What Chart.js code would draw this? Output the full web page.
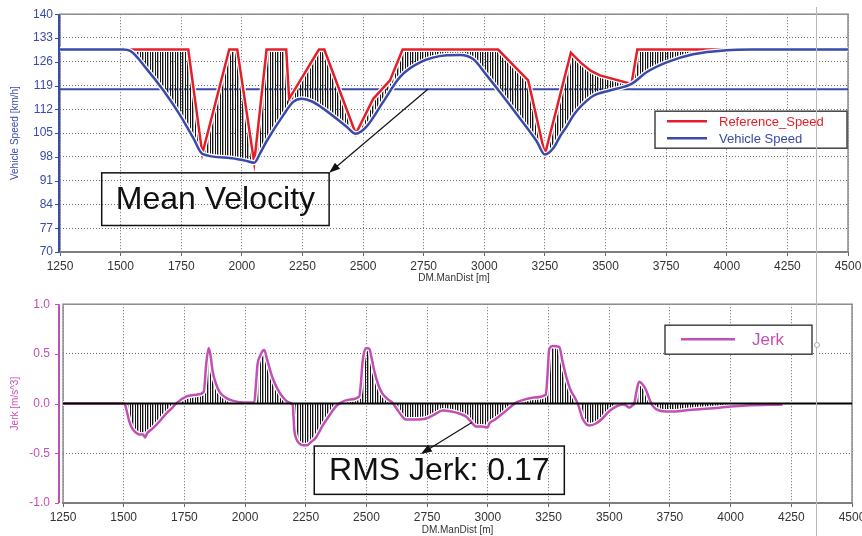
<!DOCTYPE html>
<html>
<head>
<meta charset="utf-8">
<title>Speed and Jerk</title>
<script src="https://cdn.jsdelivr.net/npm/chart.js@4.4.0/dist/chart.umd.min.js"></script>
<style>
    html, body { margin: 0; padding: 0; background: #fff; }
    #wrap { position: relative; width: 862px; height: 536px; overflow: hidden; }
    #speedChart { position: absolute; left: 0; top: 0; }
    #jerkChart { position: absolute; left: 0; top: 284px; }
    #cursor { position: absolute; left: 816px; top: 7px; width: 1px; height: 529px; background: #b8b8b8; }
    #cursorDot { position: absolute; left: 814px; top: 342px; width: 4px; height: 4px; border: 1px solid #aaa; border-radius: 50%; background: #fff; }
</style>
</head>
<body>
<div id="wrap">
    <canvas id="speedChart" width="862" height="284"></canvas>
    <canvas id="jerkChart" width="862" height="252"></canvas>
    <div id="cursor"></div>
    <div id="cursorDot"></div>
</div>
<script>
// Distance axis (shared by both plots)
const distRange = [1250, 4500];
const distStep = 250;

// Speed plot
const speedRange = [70, 140];
const speedStep = 7;
const refDist  = [1250, 1779, 1837, 1948, 1981, 2051, 2102, 2183, 2195, 2318, 2340, 2470, 2542, 2611, 2663, 3057, 3181, 3250, 3357, 3400, 3440, 3477, 3607, 3631, 4200];
const refSpeed = [129.6, 129.6, 98.9, 129.6, 129.6, 96.3, 129.6, 129.6, 115.1, 129.6, 129.6, 104.8, 115.1, 120.5, 129.6, 129.6, 120.5, 98.7, 128.7, 125.6, 123.3, 122.0, 119.5, 129.6, 129.6];
const vehDist  = [1250, 1510, 1540, 1607, 1676, 1745, 1800, 1837, 1950, 2013, 2051, 2075, 2102, 2171, 2212, 2247, 2290, 2336, 2432, 2470, 2514, 2583, 2652, 2735, 2845, 2900, 2954, 3010, 3064, 3147, 3216, 3250, 3285, 3312, 3340, 3370, 3400, 3450, 3520, 3607, 3669, 3752, 3861, 3999, 4100, 4500];
const vehSpeed = [129.6, 129.6, 129.2, 123.9, 117.6, 110.3, 103.5, 98.9, 97.7, 96.9, 96.3, 99.0, 102.6, 110.3, 114.2, 115.1, 114.3, 112.2, 106.9, 104.8, 106.9, 114.2, 121.5, 125.8, 127.9, 128.0, 126.8, 122.0, 117.1, 109.3, 102.6, 98.7, 100.6, 104.0, 107.0, 110.5, 113.0, 116.0, 117.6, 119.5, 122.9, 125.8, 128.2, 129.4, 129.6, 129.6];
const meanVelocity = 117.9;

// Jerk plot
const jerkRange = [-1, 1];
const jerkStep = 0.5;
const jerkDist = [1250, 1500, 1507, 1515, 1523, 1535, 1550, 1565, 1580, 1588, 1596, 1620, 1647, 1675, 1701, 1715, 1757, 1800, 1830, 1840, 1850, 1858, 1866, 1880, 1894, 1920, 1948, 2000, 2038, 2045, 2051, 2062, 2072, 2079, 2090, 2113, 2135, 2154, 2182, 2196, 2203, 2212, 2223, 2240, 2255, 2270, 2292, 2320, 2347, 2370, 2388, 2429, 2470, 2477, 2484, 2498, 2512, 2522, 2532, 2550, 2566, 2590, 2607, 2635, 2663, 2700, 2745, 2780, 2813, 2850, 2882, 2910, 2930, 2951, 2975, 2999, 3006, 3030, 3061, 3090, 3116, 3150, 3184, 3239, 3246, 3253, 3267, 3294, 3308, 3322, 3340, 3356, 3372, 3390, 3418, 3445, 3472, 3494, 3514, 3555, 3570, 3582, 3595, 3603, 3612, 3623, 3635, 3651, 3665, 3678, 3706, 3747, 3830, 3912, 4000, 4063, 4214];
const jerkVal  = [0, 0, -0.02, -0.10, -0.18, -0.25, -0.29, -0.31, -0.31, -0.34, -0.30, -0.25, -0.18, -0.10, -0.04, 0, 0.07, 0.09, 0.12, 0.40, 0.56, 0.48, 0.33, 0.20, 0.12, 0.06, 0.03, 0.01, 0.01, 0.20, 0.39, 0.48, 0.53, 0.54, 0.45, 0.26, 0.14, 0.07, 0.01, -0.01, -0.27, -0.36, -0.40, -0.42, -0.42, -0.39, -0.34, -0.22, -0.12, -0.04, 0, 0.04, 0.07, 0.20, 0.42, 0.56, 0.55, 0.45, 0.33, 0.18, 0.10, 0.04, 0.01, -0.09, -0.16, -0.16, -0.15, -0.11, -0.07, -0.08, -0.10, -0.13, -0.18, -0.23, -0.23, -0.24, -0.20, -0.16, -0.10, -0.04, 0.01, 0.04, 0.06, 0.09, 0.30, 0.55, 0.58, 0.57, 0.42, 0.28, 0.14, 0.07, -0.01, -0.15, -0.22, -0.20, -0.15, -0.09, -0.05, -0.01, -0.02, -0.04, -0.02, 0, 0.12, 0.22, 0.20, 0.14, 0.05, -0.02, -0.07, -0.08, -0.065, -0.05, -0.03, -0.02, -0.01];
const rmsJerk = 0.17;

const FONT = "'Liberation Sans', Arial, sans-serif";
const RED = '#e3202a';
const BLUE = '#3a4aa8';
const PINK = '#c24fb4';
const GRID = '#6a6a6a';

Chart.defaults.font.family = FONT;

function toPoints(xs, ys) {
    return xs.map((x, i) => ({ x: x, y: ys[i] }));
}

// Vertical hatching used between the curves
function hatchPattern() {
    const c = document.createElement('canvas');
    c.width = 5;
    c.height = 4;
    const g = c.getContext('2d');
    g.fillStyle = '#151515';
    g.fillRect(0, 0, 1, 4);
    g.fillRect(2, 0, 1, 4);
    g.fillStyle = '#b0b0b0';
    g.fillRect(3, 0, 1, 4);
    return g.createPattern(c, 'repeat');
}

// White outline under selected lines so the hatching stops short of them
const haloPlugin = {
    id: 'halo',
    beforeDatasetDraw(chart, args) {
        const ds = chart.data.datasets[args.index];
        if (!ds.halo) return;
        const { ctx, chartArea } = chart;
        ctx.save();
        ctx.beginPath();
        ctx.rect(chartArea.left, chartArea.top, chartArea.width, chartArea.height);
        ctx.clip();
        ctx.beginPath();
        args.meta.dataset.path(ctx);
        ctx.lineWidth = ds.borderWidth + 2.5;
        ctx.lineJoin = 'round';
        ctx.strokeStyle = '#fff';
        ctx.stroke();
        ctx.restore();
    }
};

// Plot frame, coloured value axis, zero line, callout boxes and legend
const decorPlugin = {
    id: 'decor',
    beforeDatasetsDraw(chart) {
        const { ctx, chartArea: a } = chart;
        ctx.save();
        ctx.strokeStyle = '#8c8c8c';
        ctx.lineWidth = 1.5;
        ctx.strokeRect(a.left, a.top, a.width, a.height);
        ctx.restore();
    },
    afterDatasetsDraw(chart, args, opts) {
        const { ctx, chartArea: a, scales } = chart;
        const xs = scales.x, ys = scales.y;

        if (opts.zeroLine) {
            const y0 = ys.getPixelForValue(0);
            ctx.save();
            ctx.strokeStyle = '#000';
            ctx.lineWidth = 2;
            ctx.beginPath();
            ctx.moveTo(a.left, y0);
            ctx.lineTo(a.right, y0);
            ctx.stroke();
            ctx.restore();
        }

        // value axis drawn slightly outside the frame
        if (opts.axis) {
            const ax = a.left - opts.axis.offset;
            ctx.save();
            ctx.strokeStyle = opts.axis.color;
            ctx.lineWidth = 2;
            ctx.beginPath();
            ctx.moveTo(ax, a.top);
            ctx.lineTo(ax, a.bottom);
            ctx.stroke();
            ctx.lineWidth = 1;
            ctx.beginPath();
            ys.ticks.forEach(t => {
                const ty = Math.round(ys.getPixelForValue(t.value)) + 0.5;
                ctx.moveTo(ax, ty);
                ctx.lineTo(ax - 4, ty);
            });
            ctx.stroke();
            ctx.restore();
        }

        (opts.callouts || []).forEach(c => {
            const bx0 = xs.getPixelForValue(c.box[0]);
            const bx1 = xs.getPixelForValue(c.box[1]);
            const by0 = ys.getPixelForValue(c.box[2]);
            const by1 = ys.getPixelForValue(c.box[3]);
            ctx.save();
            ctx.strokeStyle = '#111';
            ctx.lineWidth = 1.5;
            ctx.strokeRect(bx0, by0, bx1 - bx0, by1 - by0);
            ctx.fillStyle = '#111';
            ctx.font = '32px ' + FONT;
            ctx.textAlign = 'center';
            ctx.textBaseline = 'middle';
            ctx.fillText(c.text, (bx0 + bx1) / 2, (by0 + by1) / 2 + 1);

            const sx = xs.getPixelForValue(c.from[0]), sy = ys.getPixelForValue(c.from[1]);
            const ex = xs.getPixelForValue(c.to[0]), ey = ys.getPixelForValue(c.to[1]);
            const ang = Math.atan2(ey - sy, ex - sx);
            ctx.lineWidth = 1.2;
            ctx.beginPath();
            ctx.moveTo(sx, sy);
            ctx.lineTo(ex - 8 * Math.cos(ang), ey - 8 * Math.sin(ang));
            ctx.stroke();
            ctx.beginPath();
            ctx.moveTo(ex, ey);
            ctx.lineTo(ex - 11 * Math.cos(ang) + 4 * Math.sin(ang), ey - 11 * Math.sin(ang) - 4 * Math.cos(ang));
            ctx.lineTo(ex - 11 * Math.cos(ang) - 4 * Math.sin(ang), ey - 11 * Math.sin(ang) + 4 * Math.cos(ang));
            ctx.closePath();
            ctx.fill();
            ctx.restore();
        });

        const lg = opts.legend;
        if (lg) {
            const lx = a.right - lg.right - lg.width;
            const ly = a.top + lg.top;
            ctx.save();
            ctx.fillStyle = '#fff';
            ctx.fillRect(lx, ly, lg.width, lg.height);
            ctx.strokeStyle = '#444';
            ctx.lineWidth = 1.5;
            ctx.strokeRect(lx, ly, lg.width, lg.height);
            ctx.font = lg.fontSize + 'px ' + FONT;
            ctx.textBaseline = 'middle';
            lg.items.forEach((it, i) => {
                const iy = ly + lg.rows[i];
                ctx.strokeStyle = it.color;
                ctx.lineWidth = 2.5;
                ctx.beginPath();
                ctx.moveTo(lx + lg.line[0], iy);
                ctx.lineTo(lx + lg.line[1], iy);
                ctx.stroke();
                ctx.fillStyle = it.color;
                ctx.fillText(it.text, lx + lg.textX, iy + 1);
            });
            ctx.restore();
        }
    }
};

function distAxis(height) {
    return {
        type: 'linear',
        min: distRange[0],
        max: distRange[1],
        ticks: {
            stepSize: distStep,
            autoSkip: false,
            maxRotation: 0,
            color: '#333',
            padding: 3,
            font: { size: 12 },
            callback: v => String(v)
        },
        grid: { color: GRID, lineWidth: 1, tickLength: 4, tickColor: '#666', tickBorderDash: [] },
        border: { color: '#555', width: 2, dash: [1, 2] },
        title: { display: true, text: 'DM.ManDist [m]', color: '#333', font: { size: 10 }, padding: { top: 0, bottom: 0 } },
        afterFit: s => { s.height = height; s.paddingLeft = 0; s.paddingRight = 0; }
    };
}

function valueAxis(range, step, color, title, width, pad, fmt) {
    return {
        min: range[0],
        max: range[1],
        ticks: { stepSize: step, color: color, padding: pad, font: { size: 12 }, callback: fmt },
        grid: { color: GRID, lineWidth: 1, drawTicks: false },
        border: { display: false, dash: [1, 2] },
        title: { display: true, text: title, color: color, font: { size: 10 }, padding: { top: 9, bottom: 0 } },
        afterFit: s => { s.width = width; }
    };
}

function initSpeedChart() {
    const ctx = document.getElementById('speedChart').getContext('2d');
    return new Chart(ctx, {
        type: 'line',
        data: {
            datasets: [{
                label: 'Vehicle Speed',
                data: toPoints(vehDist, vehSpeed),
                borderColor: BLUE,
                borderWidth: 2.5,
                pointRadius: 0,
                cubicInterpolationMode: 'monotone',
                fill: false,
                halo: true
            }, {
                label: 'Reference_Speed',
                data: toPoints(refDist, refSpeed),
                borderColor: RED,
                borderWidth: 2.5,
                pointRadius: 0,
                tension: 0,
                backgroundColor: hatchPattern(),
                fill: '-1',
                halo: true
            }, {
                label: 'Mean Velocity',
                data: toPoints(distRange, [meanVelocity, meanVelocity]),
                borderColor: BLUE,
                borderWidth: 2,
                pointRadius: 0,
                fill: false
            }]
        },
        options: {
            responsive: false,
            animation: false,
            layout: { padding: { left: 0, right: 14, top: 11, bottom: 0 } },
            plugins: {
                legend: { display: false },
                tooltip: { enabled: false },
                decor: {
                    axis: { color: BLUE, offset: 1 },
                    callouts: [{
                        text: 'Mean Velocity',
                        box: [1422, 2360, 93.3, 77.8],
                        from: [2767, meanVelocity],
                        to: [2360, 93.3]
                    }],
                    legend: {
                        right: 1, top: 97, width: 192, height: 37, fontSize: 13,
                        line: [12, 52], textX: 64, rows: [10, 27],
                        items: [{ text: 'Reference_Speed', color: RED }, { text: 'Vehicle Speed', color: BLUE }]
                    }
                }
            },
            scales: {
                x: distAxis(32),
                y: valueAxis(speedRange, speedStep, BLUE, 'Vehicle Speed [km/h]', 60, 7, v => String(v))
            }
        },
        plugins: [haloPlugin, decorPlugin]
    });
}

function initJerkChart() {
    const ctx = document.getElementById('jerkChart').getContext('2d');
    return new Chart(ctx, {
        type: 'line',
        data: {
            datasets: [{
                label: 'Jerk',
                data: toPoints(jerkDist, jerkVal),
                borderColor: PINK,
                borderWidth: 2.5,
                pointRadius: 0,
                cubicInterpolationMode: 'monotone',
                backgroundColor: hatchPattern(),
                fill: 'origin',
                halo: true
            }]
        },
        options: {
            responsive: false,
            animation: false,
            layout: { padding: { left: 0, right: 10, top: 8, bottom: 0 } },
            plugins: {
                legend: { display: false },
                tooltip: { enabled: false },
                decor: {
                    zeroLine: true,
                    axis: { color: PINK, offset: 4 },
                    callouts: [{
                        text: 'RMS Jerk: ' + rmsJerk.toFixed(2),
                        box: [2285, 3315, -0.427, -0.913],
                        from: [2934, -0.19],
                        to: [2724, -0.507]
                    }],
                    legend: {
                        right: 40, top: 21, width: 147, height: 29, fontSize: 17,
                        line: [16, 70], textX: 87, rows: [14],
                        items: [{ text: 'Jerk', color: PINK }]
                    }
                }
            },
            scales: {
                x: distAxis(33),
                y: valueAxis(jerkRange, jerkStep, PINK, 'Jerk [m/s^3]', 63, 13, v => v.toFixed(1))
            }
        },
        plugins: [haloPlugin, decorPlugin]
    });
}

initSpeedChart();
initJerkChart();
</script>
</body>
</html>
